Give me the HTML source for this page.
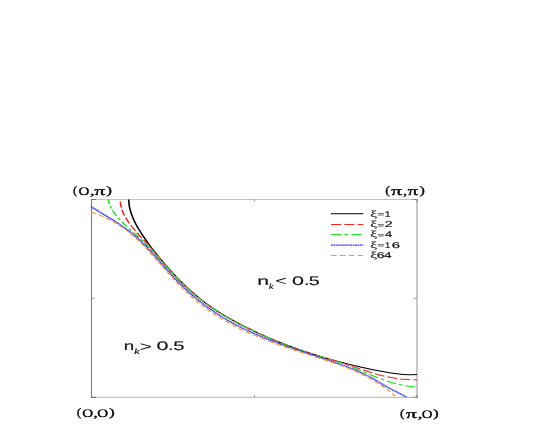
<!DOCTYPE html>
<html>
<head>
<meta charset="utf-8">
<style>
html,body{margin:0;padding:0;background:#fff;}
body{width:545px;height:447px;overflow:hidden;font-family:"Liberation Sans",sans-serif;}
svg{display:block;font-family:"Liberation Sans",sans-serif;will-change:transform;text-rendering:geometricPrecision;}
</style>
</head>
<body>
<svg width="545" height="447" viewBox="0 0 545 447">
<rect x="0" y="0" width="545" height="447" fill="#fff"/>
<g fill="none" stroke-width="1">
<line x1="91" y1="199.5" x2="417.6" y2="199.5" stroke="#c2c2c2"/>
<line x1="91" y1="397.3" x2="417.6" y2="397.3" stroke="#b2b2b2"/>
<line x1="91.5" y1="199" x2="91.5" y2="397.8" stroke="#7c7c7c" stroke-width="1.1"/>
<line x1="417" y1="199" x2="417" y2="397.8" stroke="#b0b0b0" stroke-width="1.4"/>
<line x1="91" y1="199.5" x2="96" y2="199.5" stroke="#777"/>
<line x1="412.5" y1="199.5" x2="417.6" y2="199.5" stroke="#888"/>
<line x1="91" y1="397.3" x2="96" y2="397.3" stroke="#666"/>
<line x1="413" y1="397.3" x2="417.6" y2="397.3" stroke="#888"/>
<line x1="417" y1="199" x2="417" y2="202" stroke="#909090" stroke-width="1.4"/>
<line x1="417" y1="395" x2="417" y2="397.8" stroke="#909090" stroke-width="1.4"/>
<line x1="91.5" y1="298.3" x2="94.5" y2="298.3" stroke="#999"/>
<line x1="417" y1="298.3" x2="413.5" y2="298.3" stroke="#999"/>
<line x1="254.4" y1="397.3" x2="254.4" y2="395.6" stroke="#777"/>
<line x1="254.4" y1="199.5" x2="254.4" y2="201.2" stroke="#777"/>
</g>
<g fill="none" stroke-width="1.0" stroke-linejoin="round" transform="scale(1.6,1)">
<path stroke="#000" d="M80.44,199.50 C80.47,200.18 80.52,202.25 80.62,203.59 C80.71,204.94 80.85,206.26 81.02,207.57 C81.18,208.88 81.39,210.16 81.62,211.43 C81.84,212.70 82.11,213.96 82.39,215.20 C82.68,216.44 82.99,217.66 83.32,218.87 C83.66,220.08 84.02,221.28 84.39,222.46 C84.76,223.65 85.16,224.82 85.57,225.98 C85.97,227.15 86.40,228.30 86.83,229.44 C87.27,230.59 87.71,231.72 88.16,232.85 C88.62,233.98 89.08,235.10 89.54,236.22 C90.01,237.33 90.48,238.44 90.96,239.54 C91.44,240.65 91.92,241.74 92.41,242.83 C92.90,243.92 93.40,245.01 93.90,246.09 C94.40,247.17 94.90,248.24 95.42,249.30 C95.93,250.37 96.44,251.43 96.96,252.49 C97.48,253.54 98.01,254.59 98.54,255.64 C99.07,256.68 99.60,257.72 100.14,258.75 C100.68,259.79 101.22,260.82 101.76,261.84 C102.31,262.86 102.86,263.88 103.41,264.89 C103.96,265.91 104.51,266.91 105.07,267.92 C105.63,268.92 106.19,269.92 106.75,270.91 C107.32,271.90 107.89,272.89 108.46,273.87 C109.03,274.85 109.60,275.82 110.18,276.79 C110.76,277.76 111.35,278.72 111.93,279.67 C112.52,280.63 113.11,281.57 113.70,282.51 C114.30,283.45 114.90,284.39 115.50,285.31 C116.10,286.23 116.71,287.15 117.32,288.06 C117.93,288.97 118.55,289.87 119.17,290.76 C119.79,291.65 120.41,292.54 121.04,293.41 C121.67,294.29 122.31,295.15 122.95,296.01 C123.59,296.87 124.23,297.71 124.88,298.55 C125.53,299.39 126.18,300.22 126.84,301.03 C127.50,301.85 128.17,302.66 128.84,303.45 C129.51,304.25 130.18,305.04 130.86,305.81 C131.54,306.59 132.23,307.35 132.92,308.11 C133.61,308.86 134.31,309.60 135.01,310.34 C135.71,311.07 136.42,311.80 137.13,312.51 C137.84,313.23 138.55,313.94 139.27,314.63 C139.98,315.33 140.71,316.02 141.43,316.70 C142.16,317.38 142.88,318.05 143.62,318.72 C144.35,319.38 145.08,320.03 145.82,320.68 C146.56,321.33 147.30,321.97 148.04,322.60 C148.78,323.24 149.53,323.86 150.27,324.48 C151.02,325.10 151.77,325.71 152.52,326.32 C153.27,326.93 154.02,327.52 154.78,328.12 C155.53,328.71 156.29,329.30 157.04,329.88 C157.80,330.46 158.56,331.04 159.32,331.61 C160.08,332.18 160.84,332.74 161.60,333.30 C162.36,333.86 163.12,334.41 163.89,334.96 C164.65,335.51 165.42,336.05 166.19,336.58 C166.95,337.12 167.72,337.65 168.49,338.17 C169.26,338.69 170.03,339.21 170.81,339.73 C171.58,340.24 172.35,340.75 173.13,341.25 C173.90,341.75 174.68,342.25 175.46,342.74 C176.23,343.23 177.01,343.71 177.79,344.19 C178.57,344.68 179.35,345.15 180.13,345.62 C180.92,346.09 181.70,346.55 182.49,347.01 C183.27,347.47 184.06,347.93 184.84,348.38 C185.63,348.83 186.42,349.27 187.21,349.71 C188.00,350.15 188.79,350.58 189.58,351.01 C190.37,351.44 191.16,351.87 191.96,352.29 C192.75,352.71 193.55,353.12 194.34,353.53 C195.14,353.94 195.93,354.34 196.73,354.74 C197.53,355.15 198.33,355.54 199.13,355.93 C199.93,356.32 200.73,356.71 201.53,357.09 C202.34,357.47 203.14,357.85 203.94,358.22 C204.75,358.59 205.55,358.96 206.36,359.33 C207.16,359.69 207.97,360.05 208.78,360.40 C209.59,360.76 210.40,361.11 211.21,361.45 C212.02,361.80 212.83,362.14 213.64,362.48 C214.45,362.82 215.26,363.15 216.08,363.48 C216.89,363.81 217.71,364.13 218.52,364.45 C219.34,364.77 220.15,365.09 220.97,365.40 C221.78,365.71 222.60,366.02 223.42,366.32 C224.24,366.62 225.06,366.92 225.87,367.21 C226.69,367.51 227.51,367.79 228.33,368.08 C229.15,368.36 229.97,368.64 230.79,368.92 C231.62,369.19 232.44,369.46 233.26,369.73 C234.08,369.99 234.90,370.25 235.72,370.51 C236.55,370.76 237.37,371.01 238.19,371.26 C239.01,371.51 239.84,371.75 240.66,371.98 C241.48,372.22 242.31,372.45 243.13,372.66 C243.96,372.88 244.78,373.09 245.61,373.28 C246.43,373.47 247.26,373.65 248.09,373.81 C248.92,373.97 249.75,374.11 250.58,374.24 C251.41,374.36 252.24,374.46 253.07,374.54 C253.91,374.62 254.74,374.67 255.58,374.70 C256.41,374.72 257.25,374.72 258.09,374.69 C258.94,374.66 260.20,374.53 260.63,374.50"/>
<path stroke="#ff2020" stroke-dasharray="6.25 2.06" stroke-dashoffset="6.41" d="M75.19,199.50 C75.22,200.21 75.25,202.36 75.36,203.74 C75.48,205.11 75.65,206.45 75.86,207.76 C76.07,209.07 76.34,210.34 76.64,211.58 C76.94,212.83 77.28,214.04 77.66,215.24 C78.03,216.43 78.45,217.59 78.88,218.74 C79.32,219.88 79.79,221.00 80.27,222.11 C80.75,223.21 81.26,224.30 81.78,225.37 C82.30,226.45 82.83,227.50 83.38,228.55 C83.92,229.60 84.47,230.63 85.03,231.66 C85.59,232.69 86.17,233.71 86.74,234.72 C87.31,235.74 87.89,236.75 88.47,237.75 C89.05,238.76 89.64,239.76 90.22,240.77 C90.80,241.77 91.38,242.78 91.96,243.78 C92.53,244.79 93.11,245.80 93.68,246.82 C94.25,247.84 94.81,248.86 95.36,249.89 C95.92,250.92 96.47,251.96 97.01,253.00 C97.56,254.04 98.10,255.08 98.64,256.13 C99.18,257.17 99.72,258.22 100.26,259.26 C100.81,260.31 101.35,261.35 101.89,262.39 C102.44,263.43 102.98,264.47 103.54,265.50 C104.09,266.53 104.65,267.56 105.21,268.58 C105.77,269.60 106.34,270.61 106.91,271.62 C107.49,272.63 108.06,273.63 108.65,274.63 C109.23,275.62 109.81,276.61 110.41,277.59 C111.00,278.57 111.59,279.55 112.20,280.52 C112.80,281.48 113.40,282.44 114.02,283.39 C114.63,284.34 115.24,285.29 115.86,286.22 C116.49,287.16 117.11,288.08 117.74,289.00 C118.37,289.92 119.01,290.83 119.65,291.72 C120.29,292.62 120.94,293.51 121.59,294.39 C122.24,295.27 122.90,296.14 123.56,297.00 C124.22,297.86 124.88,298.71 125.55,299.54 C126.23,300.38 126.90,301.21 127.58,302.02 C128.26,302.84 128.95,303.64 129.64,304.43 C130.33,305.23 131.03,306.01 131.73,306.77 C132.43,307.54 133.14,308.30 133.85,309.05 C134.56,309.80 135.27,310.53 135.99,311.26 C136.71,311.98 137.43,312.70 138.16,313.41 C138.88,314.12 139.61,314.81 140.35,315.50 C141.08,316.19 141.82,316.88 142.56,317.55 C143.30,318.22 144.04,318.89 144.79,319.55 C145.53,320.21 146.28,320.86 147.03,321.50 C147.78,322.15 148.53,322.79 149.29,323.42 C150.04,324.06 150.80,324.68 151.56,325.31 C152.32,325.93 153.08,326.55 153.84,327.16 C154.60,327.77 155.36,328.38 156.13,328.99 C156.89,329.59 158.04,330.49 158.43,330.79"/>
<path stroke="#ff2020" stroke-dasharray="6.25 2.06" stroke-dashoffset="4.05" d="M260.63,379.70 C260.20,379.70 258.91,379.72 258.06,379.70 C257.21,379.68 256.35,379.63 255.50,379.57 C254.65,379.50 253.80,379.41 252.95,379.30 C252.10,379.19 251.25,379.06 250.41,378.91 C249.56,378.76 248.72,378.59 247.87,378.40 C247.03,378.21 246.19,378.00 245.35,377.77 C244.52,377.54 243.68,377.29 242.85,377.02 C242.01,376.75 241.18,376.46 240.35,376.16 C239.52,375.86 238.70,375.53 237.87,375.19 C237.05,374.85 236.23,374.50 235.41,374.13 C234.59,373.76 233.78,373.37 232.96,372.98 C232.15,372.59 231.33,372.19 230.52,371.78 C229.71,371.37 228.90,370.95 228.09,370.53 C227.28,370.11 226.47,369.68 225.66,369.26 C224.85,368.83 224.05,368.40 223.24,367.97 C222.43,367.54 221.62,367.11 220.81,366.68 C220.01,366.26 219.20,365.83 218.39,365.40 C217.58,364.97 216.78,364.55 215.97,364.13 C215.16,363.70 214.35,363.28 213.54,362.87 C212.73,362.45 211.92,362.04 211.10,361.63 C210.29,361.23 209.48,360.83 208.67,360.43 C207.85,360.03 207.04,359.63 206.22,359.24 C205.41,358.84 204.59,358.45 203.77,358.06 C202.96,357.67 202.14,357.28 201.33,356.89 C200.51,356.50 199.69,356.11 198.88,355.72 C198.06,355.33 197.25,354.94 196.43,354.54 C195.62,354.15 194.80,353.75 193.99,353.35 C193.18,352.95 192.36,352.54 191.55,352.13 C190.74,351.72 189.93,351.31 189.12,350.88 C188.31,350.46 187.50,350.04 186.70,349.60 C185.89,349.17 185.09,348.72 184.29,348.27 C183.48,347.82 182.68,347.37 181.88,346.90 C181.08,346.43 180.29,345.96 179.49,345.47 C178.70,344.99 177.90,344.50 177.11,344.00 C176.32,343.51 175.53,343.00 174.74,342.49 C173.95,341.97 173.17,341.45 172.38,340.93 C171.60,340.40 170.82,339.87 170.03,339.33 C169.25,338.79 168.47,338.24 167.69,337.69 C166.92,337.14 166.14,336.58 165.36,336.02 C164.59,335.45 163.82,334.88 163.04,334.31 C162.27,333.73 161.50,333.15 160.73,332.56 C159.96,331.98 158.81,331.09 158.43,330.79"/>
<path stroke="#18e818" stroke-dasharray="6.25 2 2.5 2" stroke-dashoffset="1.6" d="M67.62,199.50 C67.74,200.18 68.04,202.26 68.32,203.57 C68.61,204.88 68.94,206.13 69.31,207.36 C69.69,208.58 70.11,209.76 70.56,210.90 C71.01,212.05 71.50,213.16 72.02,214.25 C72.53,215.33 73.08,216.39 73.65,217.42 C74.22,218.46 74.81,219.47 75.42,220.46 C76.03,221.46 76.66,222.44 77.29,223.41 C77.92,224.38 78.57,225.33 79.21,226.29 C79.86,227.24 80.51,228.19 81.16,229.14 C81.81,230.09 82.46,231.03 83.11,231.98 C83.76,232.93 84.41,233.88 85.06,234.83 C85.70,235.78 86.35,236.73 86.99,237.69 C87.63,238.65 88.27,239.61 88.90,240.57 C89.53,241.54 90.16,242.51 90.78,243.49 C91.40,244.48 92.01,245.46 92.62,246.46 C93.22,247.46 93.82,248.47 94.42,249.48 C95.01,250.49 95.60,251.52 96.19,252.54 C96.77,253.57 97.35,254.60 97.93,255.63 C98.51,256.66 99.09,257.70 99.67,258.74 C100.25,259.77 100.83,260.81 101.41,261.85 C101.99,262.89 102.57,263.93 103.15,264.96 C103.73,266.00 104.32,267.03 104.91,268.06 C105.50,269.09 106.09,270.12 106.68,271.14 C107.27,272.17 107.87,273.19 108.47,274.20 C109.07,275.22 109.67,276.23 110.28,277.24 C110.89,278.24 111.50,279.24 112.11,280.24 C112.73,281.23 113.34,282.22 113.97,283.19 C114.59,284.17 115.22,285.15 115.85,286.11 C116.48,287.07 117.11,288.03 117.76,288.97 C118.40,289.92 119.04,290.85 119.69,291.78 C120.35,292.70 121.00,293.62 121.66,294.52 C122.33,295.42 123.00,296.32 123.67,297.20 C124.34,298.08 125.02,298.94 125.71,299.80 C126.40,300.65 127.09,301.49 127.79,302.32 C128.49,303.15 129.20,303.96 129.91,304.77 C130.62,305.57 131.33,306.36 132.06,307.15 C132.78,307.93 133.51,308.70 134.24,309.45 C134.97,310.21 135.70,310.96 136.44,311.70 C137.18,312.44 137.93,313.17 138.68,313.89 C139.42,314.61 140.18,315.32 140.93,316.03 C141.69,316.73 142.45,317.43 143.21,318.12 C143.97,318.80 144.73,319.48 145.50,320.16 C146.26,320.83 147.03,321.50 147.80,322.16 C148.57,322.82 149.35,323.48 150.12,324.13 C150.89,324.78 151.67,325.42 152.45,326.06 C153.22,326.70 154.00,327.33 154.78,327.96 C155.56,328.59 156.34,329.21 157.13,329.83 C157.91,330.44 159.09,331.35 159.48,331.66"/>
<path stroke="#18e818" stroke-dasharray="6.25 2 2.5 2" stroke-dashoffset="11.8" d="M260.63,387.10 C260.18,387.05 258.86,386.92 257.98,386.79 C257.11,386.65 256.24,386.48 255.37,386.28 C254.51,386.09 253.65,385.86 252.79,385.61 C251.94,385.35 251.09,385.07 250.24,384.77 C249.40,384.47 248.55,384.14 247.71,383.79 C246.88,383.44 246.04,383.07 245.21,382.68 C244.38,382.29 243.55,381.88 242.72,381.46 C241.90,381.04 241.07,380.59 240.25,380.14 C239.43,379.68 238.61,379.21 237.80,378.73 C236.98,378.25 236.17,377.75 235.35,377.25 C234.54,376.74 233.73,376.23 232.92,375.71 C232.11,375.19 231.30,374.66 230.49,374.13 C229.68,373.60 228.88,373.06 228.07,372.53 C227.26,371.99 226.45,371.45 225.65,370.91 C224.84,370.37 224.03,369.83 223.22,369.29 C222.41,368.76 221.61,368.22 220.80,367.69 C219.99,367.17 219.17,366.64 218.36,366.13 C217.55,365.61 216.74,365.10 215.92,364.61 C215.10,364.11 214.29,363.62 213.47,363.14 C212.65,362.67 211.82,362.21 211.00,361.76 C210.17,361.31 209.35,360.88 208.52,360.45 C207.69,360.03 206.86,359.61 206.02,359.20 C205.19,358.80 204.36,358.40 203.52,358.00 C202.69,357.60 201.85,357.20 201.02,356.80 C200.18,356.41 199.35,356.01 198.51,355.61 C197.68,355.21 196.84,354.80 196.01,354.39 C195.18,353.98 194.34,353.57 193.51,353.15 C192.68,352.73 191.85,352.30 191.02,351.87 C190.19,351.44 189.36,351.00 188.53,350.56 C187.71,350.11 186.88,349.67 186.06,349.21 C185.23,348.75 184.41,348.29 183.59,347.82 C182.77,347.35 181.95,346.88 181.13,346.39 C180.31,345.91 179.49,345.42 178.68,344.92 C177.86,344.43 177.05,343.92 176.24,343.41 C175.43,342.90 174.62,342.38 173.82,341.85 C173.01,341.33 172.20,340.79 171.40,340.25 C170.60,339.71 169.79,339.17 168.99,338.61 C168.20,338.06 167.40,337.50 166.60,336.93 C165.80,336.36 165.01,335.79 164.22,335.21 C163.42,334.63 162.63,334.05 161.84,333.45 C161.05,332.86 159.87,331.96 159.48,331.66"/>
<path stroke="#2c2cff" stroke-width="1.25" stroke-dasharray="1.15 0.35" d="M56.88,206.60 C57.24,206.97 58.35,208.07 59.09,208.79 C59.83,209.52 60.58,210.25 61.33,210.98 C62.07,211.71 62.82,212.43 63.57,213.16 C64.32,213.89 65.07,214.62 65.82,215.35 C66.57,216.09 67.32,216.82 68.06,217.56 C68.81,218.31 69.56,219.05 70.30,219.80 C71.05,220.56 71.79,221.31 72.52,222.08 C73.26,222.84 74.00,223.62 74.73,224.40 C75.45,225.18 76.18,225.98 76.90,226.78 C77.62,227.58 78.33,228.40 79.04,229.22 C79.74,230.05 80.44,230.89 81.14,231.75 C81.83,232.60 82.51,233.47 83.19,234.35 C83.86,235.24 84.53,236.14 85.19,237.05 C85.84,237.97 86.49,238.91 87.13,239.85 C87.77,240.80 88.40,241.77 89.02,242.75 C89.64,243.72 90.26,244.72 90.87,245.72 C91.48,246.72 92.08,247.73 92.68,248.75 C93.28,249.78 93.87,250.81 94.46,251.84 C95.05,252.88 95.63,253.93 96.21,254.98 C96.80,256.03 97.37,257.08 97.95,258.14 C98.53,259.20 99.11,260.26 99.68,261.32 C100.26,262.38 100.84,263.44 101.41,264.50 C101.99,265.56 102.57,266.62 103.15,267.67 C103.73,268.73 104.31,269.78 104.90,270.83 C105.48,271.88 106.07,272.92 106.66,273.95 C107.26,274.99 107.85,276.01 108.45,277.03 C109.06,278.05 109.66,279.07 110.27,280.07 C110.88,281.08 111.49,282.07 112.11,283.06 C112.73,284.05 113.35,285.04 113.98,286.01 C114.61,286.98 115.24,287.95 115.88,288.90 C116.52,289.86 117.16,290.81 117.80,291.75 C118.45,292.69 119.10,293.62 119.76,294.54 C120.41,295.46 121.08,296.37 121.74,297.27 C122.41,298.17 123.08,299.06 123.76,299.94 C124.43,300.82 125.12,301.69 125.80,302.55 C126.49,303.41 127.19,304.26 127.88,305.10 C128.58,305.94 129.29,306.77 130.00,307.59 C130.71,308.40 131.42,309.21 132.14,310.01 C132.86,310.80 133.59,311.59 134.32,312.36 C135.05,313.13 135.78,313.90 136.52,314.65 C137.26,315.40 138.01,316.14 138.76,316.88 C139.51,317.61 140.26,318.33 141.02,319.04 C141.77,319.75 142.53,320.45 143.30,321.14 C144.06,321.83 144.83,322.51 145.60,323.19 C146.37,323.86 147.15,324.52 147.93,325.17 C148.71,325.82 149.49,326.46 150.27,327.10 C151.05,327.73 151.84,328.35 152.63,328.96 C153.42,329.58 154.21,330.18 155.01,330.78 C155.80,331.37 156.60,331.96 157.39,332.53 C158.19,333.11 159.39,333.95 159.79,334.24"/>
<path stroke="#2c2cff" stroke-width="1.25" stroke-dasharray="1.15 0.35" d="M254.06,397.10 C253.68,396.77 252.52,395.77 251.75,395.12 C250.98,394.47 250.20,393.84 249.42,393.20 C248.64,392.56 247.86,391.93 247.08,391.30 C246.30,390.66 245.52,390.02 244.74,389.37 C243.97,388.72 243.20,388.06 242.43,387.38 C241.66,386.70 240.90,386.00 240.14,385.30 C239.37,384.60 238.62,383.88 237.86,383.17 C237.10,382.46 236.35,381.73 235.59,381.03 C234.83,380.32 234.07,379.61 233.31,378.91 C232.54,378.22 231.78,377.54 231.00,376.88 C230.23,376.22 229.46,375.57 228.67,374.95 C227.89,374.32 227.11,373.72 226.32,373.13 C225.53,372.54 224.73,371.96 223.93,371.40 C223.13,370.84 222.33,370.30 221.52,369.76 C220.72,369.23 219.91,368.71 219.10,368.20 C218.28,367.69 217.47,367.19 216.65,366.70 C215.83,366.20 215.01,365.72 214.19,365.25 C213.37,364.77 212.54,364.31 211.72,363.84 C210.89,363.38 210.07,362.93 209.24,362.47 C208.41,362.02 207.58,361.57 206.75,361.12 C205.92,360.68 205.09,360.23 204.26,359.79 C203.43,359.35 202.60,358.90 201.77,358.46 C200.94,358.02 200.11,357.58 199.28,357.14 C198.45,356.70 197.61,356.26 196.78,355.82 C195.95,355.39 195.12,354.95 194.29,354.51 C193.46,354.07 192.62,353.63 191.79,353.19 C190.96,352.74 190.13,352.30 189.30,351.86 C188.47,351.41 187.64,350.97 186.81,350.52 C185.98,350.07 185.15,349.62 184.32,349.17 C183.49,348.72 182.67,348.26 181.84,347.80 C181.01,347.34 180.19,346.88 179.36,346.42 C178.54,345.95 177.71,345.48 176.89,345.01 C176.06,344.53 175.24,344.05 174.42,343.57 C173.60,343.09 172.78,342.60 171.96,342.11 C171.14,341.61 170.32,341.12 169.51,340.61 C168.69,340.11 167.88,339.60 167.07,339.08 C166.25,338.56 165.44,338.04 164.63,337.51 C163.82,336.98 163.01,336.44 162.21,335.90 C161.40,335.35 160.20,334.51 159.79,334.24"/>
<path stroke="#ff9820" stroke-dasharray="3.56 2" d="M56.87,212.10 C57.28,212.31 58.51,212.92 59.32,213.37 C60.13,213.82 60.93,214.29 61.72,214.79 C62.52,215.28 63.30,215.80 64.08,216.34 C64.86,216.88 65.63,217.45 66.40,218.03 C67.16,218.62 67.92,219.22 68.67,219.85 C69.42,220.47 70.16,221.12 70.89,221.79 C71.63,222.46 72.35,223.15 73.07,223.85 C73.79,224.56 74.50,225.29 75.20,226.03 C75.90,226.77 76.60,227.54 77.29,228.32 C77.97,229.10 78.65,229.90 79.32,230.71 C79.99,231.53 80.65,232.36 81.31,233.21 C81.96,234.06 82.60,234.93 83.24,235.81 C83.88,236.69 84.51,237.58 85.13,238.49 C85.75,239.40 86.36,240.32 86.97,241.25 C87.58,242.19 88.18,243.13 88.78,244.09 C89.38,245.04 89.97,246.01 90.55,246.98 C91.14,247.96 91.72,248.94 92.30,249.93 C92.88,250.92 93.45,251.92 94.02,252.92 C94.60,253.92 95.16,254.93 95.73,255.94 C96.30,256.95 96.86,257.97 97.42,258.99 C97.98,260.01 98.54,261.03 99.11,262.05 C99.67,263.07 100.23,264.09 100.79,265.11 C101.35,266.13 101.91,267.15 102.47,268.17 C103.03,269.18 103.59,270.20 104.15,271.21 C104.72,272.22 105.28,273.23 105.85,274.24 C106.41,275.25 106.98,276.25 107.55,277.25 C108.13,278.25 108.70,279.24 109.27,280.23 C109.85,281.22 110.43,282.20 111.01,283.18 C111.60,284.15 112.18,285.13 112.78,286.09 C113.37,287.05 113.96,288.01 114.56,288.96 C115.16,289.91 115.77,290.85 116.38,291.78 C116.99,292.71 117.60,293.64 118.22,294.55 C118.84,295.47 119.47,296.37 120.10,297.26 C120.73,298.16 121.37,299.04 122.02,299.91 C122.67,300.79 123.32,301.65 123.98,302.50 C124.63,303.35 125.30,304.19 125.97,305.02 C126.64,305.85 127.31,306.67 128.00,307.48 C128.68,308.29 129.36,309.08 130.05,309.87 C130.75,310.66 131.44,311.43 132.14,312.20 C132.84,312.96 133.55,313.72 134.26,314.46 C134.97,315.21 135.69,315.94 136.40,316.67 C137.12,317.39 137.85,318.10 138.57,318.80 C139.30,319.50 140.03,320.20 140.76,320.88 C141.50,321.56 142.24,322.23 142.98,322.89 C143.72,323.54 144.46,324.19 145.21,324.83 C145.95,325.47 146.70,326.10 147.45,326.71 C148.21,327.33 148.96,327.94 149.72,328.54 C150.48,329.13 151.24,329.72 152.00,330.30 C152.76,330.88 153.52,331.45 154.29,332.01 C155.06,332.58 155.83,333.13 156.60,333.67 C157.37,334.22 158.53,335.02 158.92,335.29"/>
<path stroke="#ff9820" stroke-dasharray="3.56 2" stroke-dashoffset="0.6" d="M246.88,396.10 C246.55,395.64 245.59,394.25 244.94,393.36 C244.28,392.47 243.62,391.60 242.95,390.75 C242.29,389.91 241.61,389.08 240.93,388.28 C240.25,387.47 239.56,386.68 238.86,385.92 C238.17,385.15 237.47,384.40 236.76,383.67 C236.05,382.94 235.34,382.23 234.62,381.54 C233.90,380.84 233.18,380.17 232.45,379.50 C231.72,378.84 230.98,378.20 230.24,377.57 C229.50,376.93 228.75,376.32 228.00,375.72 C227.25,375.11 226.50,374.53 225.74,373.95 C224.98,373.38 224.22,372.81 223.45,372.26 C222.68,371.71 221.91,371.17 221.14,370.64 C220.37,370.12 219.59,369.60 218.81,369.09 C218.03,368.58 217.24,368.09 216.45,367.60 C215.67,367.11 214.88,366.63 214.09,366.15 C213.29,365.68 212.50,365.21 211.70,364.75 C210.91,364.30 210.11,363.84 209.31,363.40 C208.51,362.95 207.70,362.51 206.90,362.07 C206.10,361.63 205.29,361.20 204.49,360.77 C203.68,360.34 202.87,359.92 202.07,359.50 C201.26,359.07 200.45,358.65 199.64,358.23 C198.83,357.82 198.02,357.40 197.22,356.98 C196.41,356.56 195.60,356.15 194.79,355.73 C193.98,355.31 193.17,354.90 192.36,354.48 C191.56,354.06 190.75,353.64 189.94,353.23 C189.13,352.81 188.33,352.39 187.52,351.97 C186.71,351.54 185.91,351.12 185.10,350.70 C184.29,350.27 183.49,349.85 182.69,349.42 C181.88,348.99 181.08,348.56 180.28,348.12 C179.47,347.69 178.67,347.25 177.87,346.81 C177.07,346.37 176.27,345.92 175.47,345.47 C174.67,345.02 173.88,344.57 173.08,344.11 C172.28,343.66 171.49,343.19 170.70,342.73 C169.90,342.26 169.11,341.79 168.32,341.31 C167.53,340.83 166.74,340.35 165.96,339.86 C165.17,339.37 164.38,338.88 163.60,338.38 C162.82,337.87 162.03,337.37 161.25,336.85 C160.47,336.34 159.31,335.55 158.92,335.29"/>
</g>
<g fill="none" stroke-width="1.0" transform="scale(1.6,1)">
<line x1="206.88" y1="213.7" x2="227.06" y2="213.7" stroke="#000"/>
<line x1="206.88" y1="224.4" x2="227.06" y2="224.4" stroke="#ff2020" stroke-dasharray="6.25 2.06"/>
<line x1="206.88" y1="234.6" x2="227.06" y2="234.6" stroke="#18e818" stroke-dasharray="6.25 2 2.5 2"/>
<line x1="206.88" y1="245.2" x2="227.06" y2="245.2" stroke="#2c2cff" stroke-width="1.25" stroke-dasharray="1.15 0.35"/>
<line x1="206.88" y1="255.5" x2="227.06" y2="255.5" stroke="#ff9820" stroke-dasharray="3.56 2"/>
</g>
<text font-family='"Liberation Serif"'  font-size="11.5" fill="#000" stroke="#000" stroke-width="0.3" transform="translate(73.12,193.89999999999998) scale(1.087,1.0)">(</text>
<text font-family='"Liberation Serif"'  font-size="11.5" fill="#000" stroke="#000" stroke-width="0.3" transform="translate(78.56,194.7) scale(1.309,1.0)">O</text>
<text font-family='"Liberation Serif"'  font-size="11.5" fill="#000" stroke="#000" stroke-width="0.3" transform="translate(89.94,194.7) scale(1.607,1.0)">,</text>
<text font-family='"Liberation Serif"' font-style="italic" font-size="12.6" fill="#000" stroke="#000" stroke-width="0.3" transform="translate(95.34,194.7) scale(1.697,1.0) skewX(9)">π</text>
<text font-family='"Liberation Serif"'  font-size="11.5" fill="#000" stroke="#000" stroke-width="0.3" transform="translate(106.14,193.89999999999998) scale(1.491,1.0)">)</text>
<text font-family='"Liberation Serif"'  font-size="11.5" fill="#000" stroke="#000" stroke-width="0.3" transform="translate(385.34,193.89999999999998) scale(1.242,1.0)">(</text>
<text font-family='"Liberation Serif"' font-style="italic" font-size="12.6" fill="#000" stroke="#000" stroke-width="0.3" transform="translate(392.03,194.7) scale(1.697,1.0) skewX(9)">π</text>
<text font-family='"Liberation Serif"'  font-size="11.5" fill="#000" stroke="#000" stroke-width="0.3" transform="translate(403.04,194.7) scale(1.446,1.0)">,</text>
<text font-family='"Liberation Serif"' font-style="italic" font-size="12.6" fill="#000" stroke="#000" stroke-width="0.3" transform="translate(408.52,194.7) scale(1.623,1.0) skewX(9)">π</text>
<text font-family='"Liberation Serif"'  font-size="11.5" fill="#000" stroke="#000" stroke-width="0.3" transform="translate(419.39,193.89999999999998) scale(1.398,1.0)">)</text>
<text font-family='"Liberation Serif"'  font-size="11.5" fill="#000" stroke="#000" stroke-width="0.3" transform="translate(76.74,415.9) scale(1.180,1.0)">(</text>
<text font-family='"Liberation Serif"'  font-size="11.5" fill="#000" stroke="#000" stroke-width="0.3" transform="translate(82.23,416.7) scale(1.309,1.0)">O</text>
<text font-family='"Liberation Serif"'  font-size="11.5" fill="#000" stroke="#000" stroke-width="0.3" transform="translate(93.33,416.7) scale(1.607,1.0)">,</text>
<text font-family='"Liberation Serif"'  font-size="11.5" fill="#000" stroke="#000" stroke-width="0.3" transform="translate(97.36,416.7) scale(1.309,1.0)">O</text>
<text font-family='"Liberation Serif"'  font-size="11.5" fill="#000" stroke="#000" stroke-width="0.3" transform="translate(108.90,415.9) scale(1.491,1.0)">)</text>
<text font-family='"Liberation Serif"'  font-size="11.5" fill="#000" stroke="#000" stroke-width="0.3" transform="translate(400.09,416.8) scale(1.180,1.0)">(</text>
<text font-family='"Liberation Serif"' font-style="italic" font-size="12.6" fill="#000" stroke="#000" stroke-width="0.3" transform="translate(406.76,417.6) scale(1.711,1.0) skewX(9)">π</text>
<text font-family='"Liberation Serif"'  font-size="11.5" fill="#000" stroke="#000" stroke-width="0.3" transform="translate(417.69,417.6) scale(1.607,1.0)">,</text>
<text font-family='"Liberation Serif"'  font-size="11.5" fill="#000" stroke="#000" stroke-width="0.3" transform="translate(421.73,417.6) scale(1.296,1.0)">O</text>
<text font-family='"Liberation Serif"'  font-size="11.5" fill="#000" stroke="#000" stroke-width="0.3" transform="translate(432.98,416.8) scale(1.491,1.0)">)</text>
<text font-family='"Liberation Sans"'  font-size="12.5" fill="#111" stroke="#111" stroke-width="0.12" transform="translate(257.19,284.9) scale(1.693,1.0)">n</text>
<text font-family='"Liberation Serif"' font-style="italic" font-size="8" fill="#111" stroke="#111" stroke-width="0.12" transform="translate(268.83,288.6) scale(1.308,1.0)">k</text>
<text font-family='"Liberation Sans"' font-style="italic" font-size="12.5" fill="#111" stroke="#111" stroke-width="0.0" transform="translate(274.92,285.0) scale(1.586,1.0)">&lt;</text>
<text font-family='"Liberation Sans"'  font-size="12.5" fill="#111" stroke="#111" stroke-width="0.12" transform="translate(292.05,284.9) scale(1.720,1.0)">0</text>
<text font-family='"Liberation Sans"'  font-size="12.5" fill="#111" stroke="#111" stroke-width="0.12" transform="translate(303.88,284.9) scale(1.619,1.0)">.</text>
<text font-family='"Liberation Sans"'  font-size="12.5" fill="#111" stroke="#111" stroke-width="0.12" transform="translate(308.79,284.9) scale(1.582,1.0)">5</text>
<text font-family='"Liberation Sans"'  font-size="12.5" fill="#111" stroke="#111" stroke-width="0.12" transform="translate(123.64,350.2) scale(1.500,1.0)">n</text>
<text font-family='"Liberation Serif"' font-style="italic" font-size="8" fill="#111" stroke="#111" stroke-width="0.12" transform="translate(134.01,354.0) scale(1.607,1.0)">k</text>
<text font-family='"Liberation Sans"' font-style="italic" font-size="13.5" fill="#111" stroke="#111" stroke-width="0.0" transform="translate(139.20,351.3) scale(1.567,1.0)">&gt;</text>
<text font-family='"Liberation Sans"'  font-size="12.5" fill="#111" stroke="#111" stroke-width="0.12" transform="translate(156.41,350.2) scale(1.720,1.0)">0</text>
<text font-family='"Liberation Sans"'  font-size="12.5" fill="#111" stroke="#111" stroke-width="0.12" transform="translate(167.99,350.2) scale(1.619,1.0)">.</text>
<text font-family='"Liberation Sans"'  font-size="12.5" fill="#111" stroke="#111" stroke-width="0.12" transform="translate(173.13,350.2) scale(1.625,1.0)">5</text>
<text font-family='"Liberation Serif"'  font-size="9.3" fill="#111" stroke="#111" stroke-width="0.08" transform="translate(370.26,216.7) scale(1.669,1.0)">ξ</text>
<text font-family='"Liberation Sans"'  font-size="8.4" fill="#555" stroke="#555" stroke-width="0.4" transform="translate(377.40,216.0) scale(1.359,0.6)">=</text>
<text font-family='"Liberation Sans"'  font-size="8.4" fill="#111" stroke="#111" stroke-width="0.2" transform="translate(384.83,216.7) scale(1.267,1.0)">1</text>
<text font-family='"Liberation Serif"'  font-size="9.3" fill="#111" stroke="#111" stroke-width="0.08" transform="translate(370.26,227.2) scale(1.669,1.0)">ξ</text>
<text font-family='"Liberation Sans"'  font-size="8.4" fill="#555" stroke="#555" stroke-width="0.4" transform="translate(377.40,226.5) scale(1.359,0.6)">=</text>
<text font-family='"Liberation Sans"'  font-size="8.4" fill="#111" stroke="#111" stroke-width="0.2" transform="translate(384.66,227.2) scale(1.678,1.0)">2</text>
<text font-family='"Liberation Serif"'  font-size="9.3" fill="#111" stroke="#111" stroke-width="0.08" transform="translate(370.26,237.4) scale(1.669,1.0)">ξ</text>
<text font-family='"Liberation Sans"'  font-size="8.4" fill="#555" stroke="#555" stroke-width="0.4" transform="translate(377.40,236.70000000000002) scale(1.359,0.6)">=</text>
<text font-family='"Liberation Sans"'  font-size="8.4" fill="#111" stroke="#111" stroke-width="0.2" transform="translate(385.07,237.4) scale(1.517,1.0)">4</text>
<text font-family='"Liberation Serif"'  font-size="9.3" fill="#111" stroke="#111" stroke-width="0.08" transform="translate(370.26,247.8) scale(1.669,1.0)">ξ</text>
<text font-family='"Liberation Sans"'  font-size="8.4" fill="#555" stroke="#555" stroke-width="0.4" transform="translate(377.40,247.10000000000002) scale(1.359,0.6)">=</text>
<text font-family='"Liberation Sans"'  font-size="8.4" fill="#111" stroke="#111" stroke-width="0.2" transform="translate(384.91,247.8) scale(1.140,1.0)">1</text>
<text font-family='"Liberation Sans"'  font-size="8.4" fill="#111" stroke="#111" stroke-width="0.2" transform="translate(391.77,247.8) scale(1.775,1.0)">6</text>
<text font-family='"Liberation Serif"'  font-size="9.3" fill="#111" stroke="#111" stroke-width="0.08" transform="translate(370.26,258.3) scale(1.669,1.0)">ξ</text>
<text font-family='"Liberation Sans"'  font-size="8.4" fill="#111" stroke="#111" stroke-width="0.2" transform="translate(376.68,258.3) scale(1.657,1.0)">6</text>
<text font-family='"Liberation Sans"'  font-size="8.4" fill="#111" stroke="#111" stroke-width="0.2" transform="translate(383.95,258.3) scale(1.626,1.0)">4</text>
</svg>
</body>
</html>
